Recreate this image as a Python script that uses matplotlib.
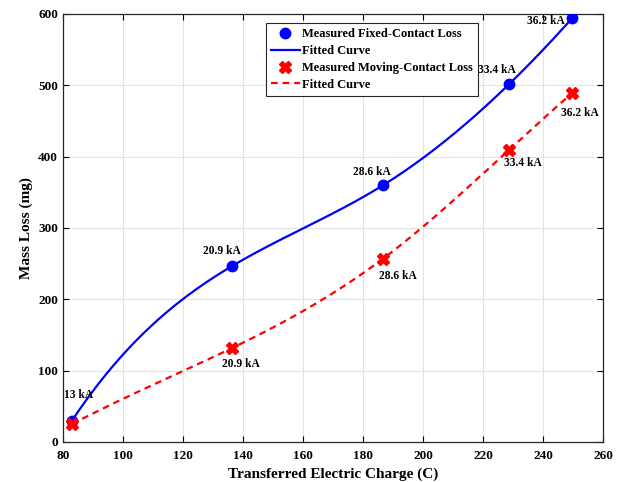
import numpy as np
import matplotlib
matplotlib.use("Agg")
import matplotlib.pyplot as plt

plt.rcParams['font.family'] = ['Liberation Serif', 'DejaVu Serif']
plt.rcParams['font.weight'] = 'bold'

# transferred charge (C) and measured mass loss (mg)
charge = [83.0, 136.5, 186.7, 228.8, 249.7]
fixed_loss = [30.0, 247.0, 360.0, 502.0, 594.0]
moving_loss = [25.0, 132.0, 257.0, 410.0, 489.0]
currents = ['13 kA', '20.9 kA', '28.6 kA', '33.4 kA', '36.2 kA']

# label positions (data coords)
fixed_lbl_x = [85.2, 132.8, 182.9, 224.7, 240.8]
fixed_lbl_y = [66.0, 268.0, 378.0, 521.5, 590.0]
moving_lbl_x = [139.3, 191.6, 233.3, 252.4]
moving_lbl_y = [109.5, 232.5, 391.0, 461.0]


def spline(x, y, xs):
    # cubic spline, not-a-knot ends
    x = np.asarray(x, float)
    y = np.asarray(y, float)
    n = len(x) - 1
    A = np.zeros((4 * n, 4 * n))
    b = np.zeros(4 * n)
    r = 0
    for i in range(n):
        for xx, yy in ((x[i], y[i]), (x[i + 1], y[i + 1])):
            t = xx - x[i]
            A[r, 4 * i:4 * i + 4] = [1, t, t ** 2, t ** 3]
            b[r] = yy
            r += 1
    for i in range(n - 1):
        h = x[i + 1] - x[i]
        A[r, 4 * i:4 * i + 4] = [0, 1, 2 * h, 3 * h ** 2]
        A[r, 4 * (i + 1) + 1] = -1
        r += 1
        A[r, 4 * i:4 * i + 4] = [0, 0, 2, 6 * h]
        A[r, 4 * (i + 1) + 2] = -2
        r += 1
    A[r, 3] = 1
    A[r, 7] = -1
    r += 1
    A[r, 4 * (n - 2) + 3] = 1
    A[r, 4 * (n - 1) + 3] = -1
    c = np.linalg.solve(A, b).reshape(n, 4)
    idx = np.clip(np.searchsorted(x, xs) - 1, 0, n - 1)
    t = xs - x[idx]
    return c[idx, 0] + c[idx, 1] * t + c[idx, 2] * t ** 2 + c[idx, 3] * t ** 3


xs = np.linspace(charge[0], charge[-1], 400)

fig = plt.figure(figsize=(6.21, 4.82), dpi=100)
ax = fig.add_axes([0.1014, 0.083, 0.8696, 0.888])

ax.plot(charge, fixed_loss, 'o', color='blue', markersize=7.5,
        label='Measured Fixed-Contact Loss', zorder=4)
ax.plot(xs, spline(charge, fixed_loss, xs), '-', color='blue', lw=1.6,
        label='Fitted Curve', zorder=3)
ax.plot(charge, moving_loss, 'X', color='red', markersize=8,
        label='Measured Moving-Contact Loss', zorder=4)
ax.plot(xs, spline(charge, moving_loss, xs), '--', color='red', lw=1.6,
        dashes=(3, 2.2), label='Fitted Curve', zorder=3)

for lx, ly, s in zip(fixed_lbl_x, fixed_lbl_y, currents):
    ax.text(lx, ly, s, ha='center', va='center', fontsize=8.3, fontweight='bold')
for lx, ly, s in zip(moving_lbl_x, moving_lbl_y, currents[1:]):
    ax.text(lx, ly, s, ha='center', va='center', fontsize=8.3, fontweight='bold')

ax.set_xlim(80, 260)
ax.set_ylim(0, 600)
ax.set_xticks(np.arange(80, 261, 20))
ax.set_yticks(np.arange(0, 601, 100))
ax.grid(True, color='#e3e3e3', lw=0.8)
ax.set_axisbelow(True)
ax.tick_params(direction='in', length=4, width=0.8, top=True, right=True,
               labelsize=9.5)
ax.tick_params(axis='x', pad=6)
ax.tick_params(axis='y', pad=3.5)
for sp in ax.spines.values():
    sp.set_linewidth(0.9)
    sp.set_color('#262626')

ax.set_xlabel('Transferred Electric Charge (C)', fontsize=11, fontweight='bold',
              labelpad=4)
ax.set_ylabel('Mass Loss (mg)', fontsize=11, fontweight='bold', labelpad=4)

leg = ax.legend(loc='upper left', bbox_to_anchor=(0.376, 0.978), borderaxespad=0,
                fontsize=9, handlelength=2.3, handletextpad=0.2, labelspacing=0.38,
                borderpad=0.4, fancybox=False, framealpha=1, edgecolor='#262626')
leg.get_frame().set_linewidth(0.8)

fig.savefig('out.png', dpi=100)
